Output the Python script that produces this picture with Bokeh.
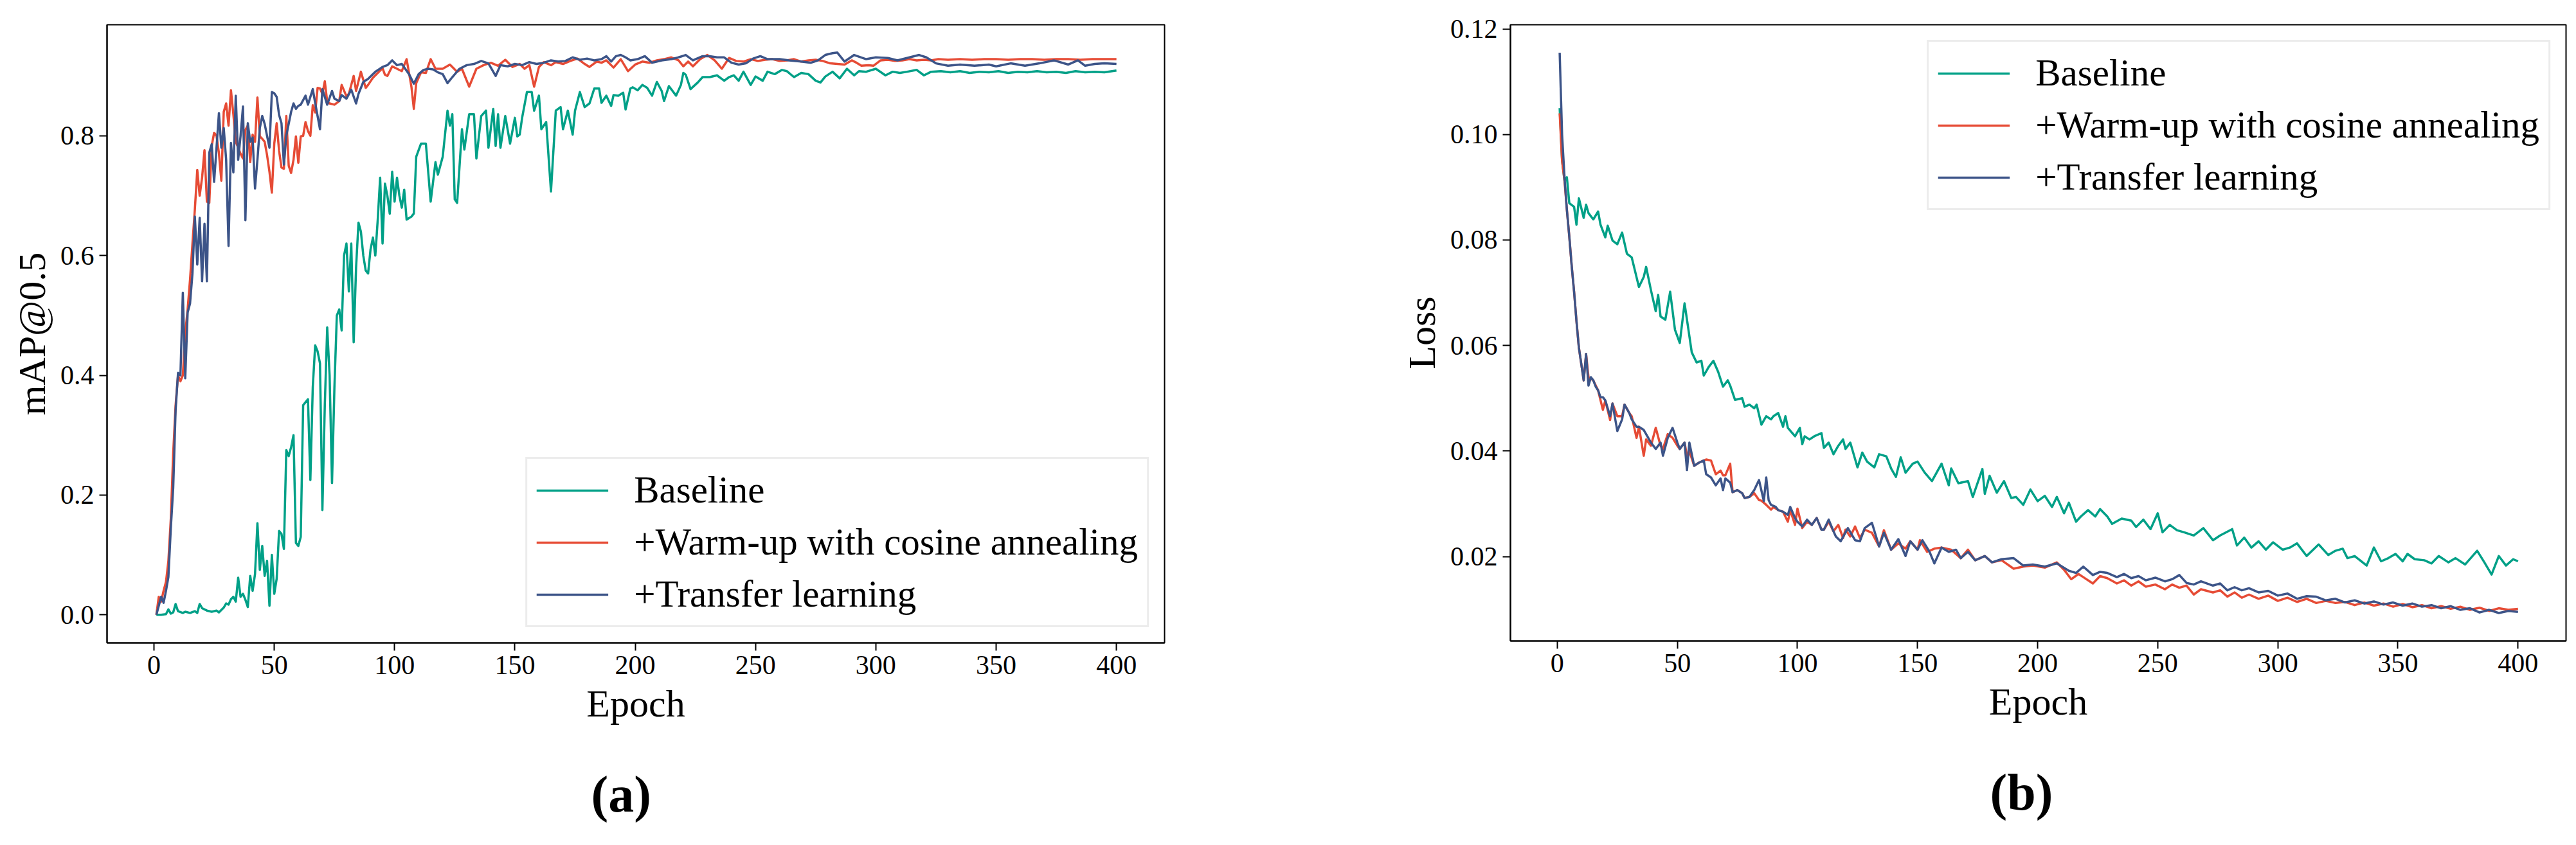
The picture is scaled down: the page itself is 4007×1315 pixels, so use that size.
from bokeh.plotting import figure
from bokeh.layouts import row
from bokeh.models import Range1d, FixedTicker, PrintfTickFormatter, Legend, LegendItem, Title
from bokeh.embed import file_html
from bokeh.resources import INLINE

FONT = "Liberation Serif"
GREEN, RED, BLUE = "#00A087", "#E64B35", "#3C5488"

series_names = ["Baseline", "+Warm-up with cosine annealing", "+Transfer learning"]
epoch_ticks = [0, 50, 100, 150, 200, 250, 300, 350, 400]
map_ticks = [0.0, 0.2, 0.4, 0.6, 0.8]
loss_ticks = [0.02, 0.04, 0.06, 0.08, 0.10, 0.12]

# (epoch, mAP@0.5)
map_baseline = [
    (1, 0.000), (3, 0.000), (5, 0.001), (6, 0.009), (7, 0.002), (8, 0.004), (9, 0.018), (10, 0.006), (12, 0.003), (13, 0.005),
    (15, 0.003), (17, 0.006), (18, 0.003), (19, 0.018), (20, 0.011), (22, 0.007), (24, 0.005), (26, 0.007), (27, 0.004), (29, 0.012),
    (30, 0.019), (31, 0.017), (32, 0.026), (33, 0.030), (34, 0.022), (35, 0.062), (36, 0.030), (37, 0.035), (38, 0.025), (39, 0.013),
    (40, 0.065), (41, 0.040), (42, 0.068), (43, 0.153), (44, 0.075), (45, 0.115), (46, 0.065), (47, 0.090), (48, 0.015), (49, 0.100),
    (50, 0.035), (51, 0.060), (52, 0.140), (53, 0.135), (54, 0.110), (55, 0.275), (56, 0.265), (57, 0.280), (58, 0.300), (59, 0.120),
    (60, 0.115), (61, 0.130), (62, 0.350), (63, 0.355), (64, 0.360), (65, 0.225), (66, 0.380), (67, 0.450), (68, 0.440), (69, 0.420),
    (70, 0.175), (71, 0.350), (72, 0.480), (73, 0.400), (74, 0.220), (75, 0.380), (76, 0.500), (77, 0.510), (78, 0.475), (79, 0.600),
    (80, 0.620), (81, 0.540), (82, 0.620), (83, 0.455), (84, 0.580), (85, 0.655), (86, 0.640), (87, 0.600), (88, 0.575), (89, 0.570),
    (90, 0.610), (91, 0.630), (92, 0.600), (93, 0.660), (94, 0.730), (95, 0.620), (96, 0.720), (97, 0.700), (98, 0.670), (99, 0.740),
    (100, 0.690), (101, 0.730), (102, 0.700), (103, 0.680), (104, 0.710), (105, 0.660), (107, 0.665), (108, 0.670), (109, 0.765), (111, 0.787),
    (113, 0.787), (115, 0.690), (117, 0.756), (118, 0.735), (120, 0.765), (122, 0.842), (123, 0.817), (124, 0.836), (125, 0.694), (126, 0.688),
    (128, 0.811), (129, 0.777), (131, 0.836), (133, 0.836), (134, 0.762), (136, 0.833), (138, 0.842), (139, 0.780), (141, 0.845), (142, 0.783),
    (143, 0.836), (144, 0.780), (146, 0.833), (148, 0.787), (150, 0.830), (151, 0.799), (152, 0.802), (153, 0.830), (155, 0.873), (157, 0.873),
    (158, 0.842), (160, 0.867), (161, 0.811), (163, 0.823), (165, 0.707), (167, 0.842), (169, 0.848), (170, 0.811), (172, 0.842), (174, 0.802),
    (175, 0.842), (177, 0.873), (179, 0.848), (181, 0.854), (183, 0.879), (185, 0.879), (186, 0.855), (188, 0.867), (190, 0.850), (191, 0.868),
    (193, 0.867), (195, 0.872), (196, 0.844), (198, 0.879), (199, 0.881), (201, 0.876), (203, 0.885), (205, 0.880), (207, 0.867), (209, 0.890),
    (211, 0.875), (212, 0.858), (214, 0.883), (217, 0.867), (219, 0.885), (220, 0.905), (221, 0.902), (223, 0.878), (226, 0.889), (228, 0.898),
    (231, 0.898), (234, 0.901), (237, 0.892), (239, 0.898), (241, 0.901), (243, 0.892), (245, 0.907), (248, 0.885), (250, 0.899), (253, 0.892),
    (255, 0.907), (258, 0.903), (261, 0.910), (263, 0.908), (266, 0.898), (269, 0.905), (272, 0.903), (275, 0.892), (277, 0.889), (279, 0.899),
    (282, 0.907), (285, 0.896), (288, 0.912), (291, 0.901), (293, 0.908), (296, 0.907), (300, 0.912), (304, 0.901), (307, 0.907), (310, 0.905),
    (313, 0.907), (317, 0.910), (320, 0.901), (323, 0.907), (327, 0.908), (331, 0.906), (335, 0.908), (339, 0.905), (343, 0.907), (347, 0.906),
    (351, 0.908), (355, 0.905), (359, 0.907), (363, 0.906), (367, 0.908), (371, 0.906), (375, 0.907), (379, 0.905), (383, 0.908), (387, 0.906),
    (391, 0.907), (395, 0.906), (400, 0.909),
]

map_warmup = [
    (1, 0.000), (2, 0.030), (3, 0.022), (4, 0.040), (5, 0.055), (6, 0.090), (7, 0.160), (8, 0.270), (9, 0.350), (10, 0.400),
    (11, 0.390), (12, 0.400), (13, 0.470), (14, 0.510), (15, 0.560), (16, 0.620), (17, 0.677), (18, 0.743), (19, 0.700), (20, 0.730),
    (21, 0.776), (22, 0.690), (23, 0.688), (24, 0.783), (25, 0.805), (26, 0.800), (27, 0.771), (28, 0.725), (29, 0.840), (30, 0.854),
    (31, 0.817), (32, 0.876), (33, 0.836), (34, 0.790), (35, 0.780), (36, 0.770), (37, 0.762), (38, 0.810), (39, 0.817), (40, 0.756),
    (41, 0.802), (42, 0.790), (43, 0.864), (44, 0.799), (45, 0.795), (46, 0.790), (47, 0.768), (48, 0.740), (49, 0.705), (50, 0.787),
    (51, 0.821), (52, 0.775), (53, 0.747), (54, 0.745), (55, 0.833), (56, 0.750), (57, 0.738), (58, 0.760), (59, 0.799), (60, 0.755),
    (61, 0.799), (62, 0.800), (63, 0.823), (64, 0.808), (65, 0.800), (66, 0.851), (67, 0.839), (68, 0.880), (69, 0.879), (70, 0.870),
    (71, 0.891), (72, 0.857), (73, 0.854), (75, 0.852), (77, 0.858), (78, 0.885), (80, 0.866), (81, 0.870), (83, 0.900), (84, 0.875),
    (86, 0.907), (88, 0.880), (89, 0.885), (91, 0.897), (93, 0.905), (95, 0.913), (96, 0.902), (97, 0.900), (99, 0.916), (101, 0.912),
    (103, 0.908), (105, 0.928), (107, 0.882), (108, 0.845), (109, 0.888), (111, 0.906), (113, 0.905), (115, 0.928), (117, 0.912), (120, 0.912),
    (123, 0.919), (126, 0.907), (128, 0.912), (131, 0.882), (134, 0.912), (137, 0.918), (140, 0.922), (143, 0.917), (146, 0.927), (149, 0.915),
    (152, 0.920), (154, 0.912), (156, 0.918), (158, 0.882), (160, 0.915), (162, 0.923), (165, 0.918), (167, 0.923), (170, 0.920), (173, 0.925),
    (176, 0.929), (179, 0.920), (181, 0.915), (184, 0.924), (186, 0.922), (188, 0.926), (191, 0.914), (194, 0.928), (197, 0.908), (200, 0.919),
    (203, 0.924), (206, 0.922), (209, 0.926), (212, 0.928), (215, 0.931), (218, 0.926), (220, 0.916), (222, 0.924), (224, 0.916), (227, 0.928),
    (230, 0.935), (233, 0.926), (236, 0.912), (239, 0.930), (242, 0.925), (245, 0.924), (248, 0.928), (251, 0.925), (254, 0.927), (257, 0.928),
    (260, 0.925), (263, 0.926), (266, 0.928), (269, 0.924), (272, 0.926), (275, 0.927), (278, 0.925), (281, 0.921), (284, 0.920), (287, 0.919),
    (290, 0.926), (292, 0.922), (294, 0.917), (297, 0.918), (299, 0.917), (302, 0.926), (305, 0.927), (308, 0.925), (311, 0.926), (314, 0.928),
    (317, 0.926), (320, 0.927), (323, 0.926), (326, 0.928), (330, 0.927), (335, 0.928), (340, 0.927), (345, 0.928), (350, 0.928), (355, 0.927),
    (360, 0.928), (365, 0.928), (370, 0.927), (375, 0.928), (380, 0.928), (385, 0.927), (390, 0.928), (395, 0.928), (400, 0.928),
]

map_transfer = [
    (1, 0.000), (2, 0.015), (3, 0.030), (4, 0.020), (5, 0.040), (6, 0.063), (7, 0.144), (8, 0.212), (9, 0.342), (10, 0.404),
    (11, 0.400), (12, 0.538), (13, 0.395), (14, 0.505), (15, 0.520), (16, 0.570), (17, 0.665), (18, 0.585), (19, 0.663), (20, 0.557),
    (21, 0.653), (22, 0.557), (23, 0.772), (24, 0.786), (25, 0.723), (26, 0.780), (27, 0.838), (28, 0.780), (29, 0.813), (30, 0.760),
    (31, 0.616), (32, 0.788), (33, 0.739), (34, 0.867), (35, 0.760), (36, 0.800), (37, 0.849), (38, 0.659), (39, 0.821), (40, 0.790),
    (41, 0.797), (42, 0.712), (43, 0.760), (44, 0.813), (45, 0.833), (46, 0.820), (47, 0.800), (48, 0.780), (49, 0.873), (50, 0.871),
    (51, 0.865), (52, 0.835), (53, 0.821), (54, 0.752), (55, 0.800), (56, 0.820), (57, 0.840), (58, 0.854), (59, 0.845), (60, 0.850),
    (61, 0.852), (63, 0.867), (64, 0.852), (66, 0.878), (67, 0.855), (69, 0.811), (70, 0.878), (72, 0.852), (74, 0.875), (75, 0.862),
    (77, 0.858), (78, 0.868), (80, 0.862), (82, 0.877), (84, 0.854), (85, 0.870), (87, 0.890), (89, 0.895), (90, 0.899), (92, 0.907),
    (95, 0.915), (97, 0.918), (99, 0.926), (101, 0.918), (103, 0.920), (106, 0.903), (108, 0.887), (110, 0.903), (112, 0.910), (114, 0.912),
    (116, 0.911), (118, 0.906), (120, 0.903), (122, 0.888), (124, 0.898), (127, 0.912), (130, 0.918), (133, 0.920), (136, 0.925), (139, 0.921),
    (142, 0.900), (144, 0.918), (147, 0.916), (150, 0.920), (153, 0.918), (156, 0.923), (159, 0.920), (162, 0.922), (165, 0.926), (168, 0.924),
    (171, 0.925), (174, 0.931), (177, 0.927), (180, 0.929), (183, 0.926), (186, 0.928), (188, 0.933), (190, 0.924), (192, 0.933), (194, 0.935),
    (196, 0.931), (198, 0.926), (201, 0.928), (204, 0.933), (207, 0.922), (211, 0.926), (215, 0.928), (218, 0.931), (221, 0.935), (224, 0.926),
    (228, 0.933), (231, 0.933), (234, 0.931), (237, 0.931), (240, 0.922), (243, 0.919), (246, 0.921), (249, 0.929), (252, 0.933), (255, 0.928),
    (260, 0.928), (264, 0.926), (269, 0.924), (273, 0.922), (276, 0.926), (279, 0.935), (282, 0.938), (284, 0.939), (287, 0.924), (291, 0.935),
    (296, 0.928), (300, 0.931), (305, 0.930), (309, 0.926), (314, 0.931), (318, 0.935), (321, 0.931), (325, 0.921), (330, 0.917), (335, 0.919),
    (341, 0.917), (347, 0.919), (350, 0.916), (356, 0.921), (362, 0.917), (368, 0.921), (374, 0.926), (380, 0.919), (384, 0.926), (387, 0.917),
    (391, 0.920), (395, 0.921), (400, 0.920),
]

# (epoch, loss)
loss_baseline = [
    (1, 0.1050), (2, 0.0951), (3, 0.0913), (4, 0.0919), (5, 0.0870), (7, 0.0863), (8, 0.0829), (9, 0.0879), (11, 0.0842), (12, 0.0867),
    (13, 0.0851), (15, 0.0839), (17, 0.0854), (18, 0.0829), (20, 0.0805), (21, 0.0827), (23, 0.0799), (25, 0.0792), (27, 0.0814), (29, 0.0774),
    (31, 0.0767), (34, 0.0711), (36, 0.0730), (37, 0.0749), (39, 0.0705), (41, 0.0665), (42, 0.0696), (43, 0.0655), (45, 0.0649), (47, 0.0702),
    (49, 0.0630), (51, 0.0605), (53, 0.0680), (56, 0.0587), (58, 0.0568), (60, 0.0571), (61, 0.0543), (63, 0.0559), (65, 0.0571), (67, 0.0550),
    (69, 0.0522), (71, 0.0534), (72, 0.0524), (74, 0.0497), (77, 0.0500), (78, 0.0484), (80, 0.0488), (82, 0.0481), (83, 0.0488), (85, 0.0450),
    (87, 0.0466), (89, 0.0460), (90, 0.0466), (92, 0.0472), (94, 0.0446), (95, 0.0466), (96, 0.0444), (99, 0.0428), (101, 0.0444), (102, 0.0413),
    (103, 0.0428), (105, 0.0422), (107, 0.0428), (110, 0.0434), (111, 0.0406), (113, 0.0416), (115, 0.0394), (117, 0.0410), (119, 0.0422), (120, 0.0404),
    (122, 0.0416), (125, 0.0369), (127, 0.0397), (129, 0.0380), (132, 0.0369), (134, 0.0394), (137, 0.0390), (139, 0.0367), (141, 0.0351), (143, 0.0388),
    (145, 0.0359), (148, 0.0376), (150, 0.0380), (153, 0.0359), (156, 0.0343), (160, 0.0376), (163, 0.0335), (164, 0.0367), (167, 0.0339), (171, 0.0343),
    (173, 0.0313), (177, 0.0366), (178, 0.0319), (180, 0.0353), (183, 0.0321), (186, 0.0343), (189, 0.0311), (191, 0.0313), (194, 0.0298), (197, 0.0327),
    (200, 0.0305), (203, 0.0315), (206, 0.0294), (208, 0.0313), (211, 0.0282), (213, 0.0302), (216, 0.0266), (218, 0.0276), (221, 0.0288), (224, 0.0276),
    (226, 0.0290), (229, 0.0276), (231, 0.0262), (235, 0.0272), (239, 0.0268), (241, 0.0256), (244, 0.0270), (247, 0.0252), (250, 0.0282), (252, 0.0246),
    (255, 0.0260), (258, 0.0250), (261, 0.0246), (265, 0.0240), (269, 0.0254), (273, 0.0231), (276, 0.0240), (281, 0.0252), (283, 0.0221), (286, 0.0236),
    (289, 0.0217), (292, 0.0229), (295, 0.0213), (298, 0.0227), (302, 0.0213), (305, 0.0217), (308, 0.0225), (312, 0.0201), (317, 0.0223), (321, 0.0203),
    (324, 0.0211), (327, 0.0215), (329, 0.0197), (332, 0.0201), (337, 0.0183), (340, 0.0217), (343, 0.0191), (346, 0.0197), (349, 0.0205), (352, 0.0191),
    (354, 0.0205), (357, 0.0195), (361, 0.0193), (364, 0.0187), (367, 0.0201), (371, 0.0189), (374, 0.0197), (378, 0.0185), (383, 0.0211), (386, 0.0189),
    (389, 0.0166), (392, 0.0201), (395, 0.0183), (398, 0.0195), (400, 0.0191),
]

loss_warmup = [
    (1, 0.1040), (2, 0.0950), (3, 0.0913), (4, 0.0857), (5, 0.0807), (6, 0.0751), (7, 0.0702), (8, 0.0646), (9, 0.0596), (10, 0.0565),
    (11, 0.0534), (12, 0.0584), (13, 0.0540), (15, 0.0534), (17, 0.0515), (19, 0.0478), (20, 0.0496), (22, 0.0459), (23, 0.0490), (25, 0.0466),
    (27, 0.0466), (28, 0.0488), (30, 0.0472), (31, 0.0466), (33, 0.0425), (34, 0.0446), (36, 0.0391), (37, 0.0422), (39, 0.0410), (41, 0.0444),
    (43, 0.0410), (44, 0.0404), (46, 0.0432), (48, 0.0425), (50, 0.0410), (51, 0.0404), (53, 0.0416), (54, 0.0391), (55, 0.0400), (57, 0.0372),
    (59, 0.0378), (61, 0.0382), (62, 0.0384), (64, 0.0382), (66, 0.0356), (68, 0.0363), (69, 0.0354), (70, 0.0354), (72, 0.0376), (73, 0.0322),
    (75, 0.0326), (77, 0.0320), (78, 0.0311), (80, 0.0313), (82, 0.0320), (84, 0.0307), (85, 0.0306), (87, 0.0298), (89, 0.0289), (90, 0.0294),
    (92, 0.0288), (94, 0.0285), (96, 0.0266), (97, 0.0288), (99, 0.0260), (100, 0.0291), (102, 0.0254), (104, 0.0266), (106, 0.0260), (108, 0.0273),
    (110, 0.0251), (111, 0.0251), (113, 0.0266), (115, 0.0248), (117, 0.0260), (119, 0.0235), (120, 0.0251), (122, 0.0238), (124, 0.0257), (126, 0.0235),
    (128, 0.0251), (131, 0.0245), (134, 0.0219), (136, 0.0250), (139, 0.0213), (142, 0.0225), (145, 0.0215), (147, 0.0229), (150, 0.0213), (151, 0.0231),
    (154, 0.0209), (157, 0.0215), (160, 0.0217), (164, 0.0213), (168, 0.0197), (171, 0.0213), (174, 0.0193), (178, 0.0201), (181, 0.0189), (185, 0.0193),
    (190, 0.0177), (194, 0.0181), (198, 0.0183), (203, 0.0179), (208, 0.0189), (211, 0.0175), (214, 0.0157), (217, 0.0167), (219, 0.0161), (223, 0.0149),
    (226, 0.0163), (229, 0.0159), (233, 0.0149), (236, 0.0155), (239, 0.0145), (242, 0.0153), (245, 0.0143), (249, 0.0147), (253, 0.0138), (256, 0.0147),
    (259, 0.0141), (262, 0.0145), (265, 0.0128), (268, 0.0138), (273, 0.0132), (276, 0.0136), (279, 0.0124), (282, 0.0132), (285, 0.0122), (288, 0.0128),
    (292, 0.0120), (296, 0.0126), (300, 0.0116), (304, 0.0122), (308, 0.0114), (312, 0.0120), (316, 0.0112), (320, 0.0116), (324, 0.0112), (328, 0.0114),
    (332, 0.0108), (336, 0.0113), (340, 0.0107), (344, 0.0111), (348, 0.0105), (352, 0.0110), (356, 0.0104), (360, 0.0108), (364, 0.0102), (368, 0.0106),
    (372, 0.0101), (376, 0.0105), (380, 0.0099), (384, 0.0103), (388, 0.0097), (392, 0.0102), (396, 0.0099), (400, 0.0101),
]

loss_transfer = [
    (1, 0.1155), (2, 0.1000), (3, 0.0920), (4, 0.0857), (5, 0.0807), (6, 0.0751), (7, 0.0702), (8, 0.0646), (9, 0.0596), (10, 0.0565),
    (11, 0.0534), (12, 0.0584), (13, 0.0524), (14, 0.0540), (15, 0.0534), (16, 0.0522), (17, 0.0515), (18, 0.0502), (19, 0.0502), (20, 0.0496),
    (22, 0.0466), (23, 0.0490), (25, 0.0438), (27, 0.0460), (28, 0.0488), (30, 0.0472), (31, 0.0460), (33, 0.0446), (34, 0.0446), (36, 0.0440),
    (37, 0.0432), (39, 0.0416), (41, 0.0404), (43, 0.0416), (44, 0.0391), (46, 0.0425), (48, 0.0444), (50, 0.0416), (51, 0.0404), (53, 0.0416),
    (54, 0.0364), (55, 0.0416), (57, 0.0372), (59, 0.0378), (61, 0.0382), (62, 0.0356), (64, 0.0350), (66, 0.0335), (68, 0.0348), (69, 0.0326),
    (70, 0.0348), (72, 0.0340), (73, 0.0322), (75, 0.0326), (77, 0.0320), (78, 0.0311), (80, 0.0313), (82, 0.0326), (84, 0.0345), (86, 0.0305),
    (87, 0.0350), (88, 0.0307), (89, 0.0298), (91, 0.0294), (92, 0.0288), (94, 0.0285), (96, 0.0279), (97, 0.0294), (99, 0.0273), (100, 0.0266),
    (102, 0.0257), (104, 0.0270), (106, 0.0260), (108, 0.0273), (110, 0.0251), (111, 0.0251), (113, 0.0270), (115, 0.0248), (116, 0.0238), (118, 0.0229),
    (121, 0.0254), (124, 0.0231), (126, 0.0229), (128, 0.0254), (131, 0.0264), (134, 0.0219), (136, 0.0245), (139, 0.0213), (142, 0.0233), (145, 0.0201),
    (147, 0.0229), (150, 0.0213), (152, 0.0231), (155, 0.0209), (157, 0.0187), (160, 0.0217), (163, 0.0209), (166, 0.0213), (168, 0.0197), (171, 0.0209),
    (174, 0.0193), (178, 0.0201), (181, 0.0189), (185, 0.0195), (190, 0.0197), (194, 0.0183), (198, 0.0185), (203, 0.0181), (208, 0.0187), (213, 0.0173),
    (216, 0.0169), (219, 0.0181), (223, 0.0165), (226, 0.0171), (229, 0.0169), (233, 0.0161), (236, 0.0167), (239, 0.0159), (242, 0.0163), (245, 0.0155),
    (249, 0.0160), (253, 0.0153), (256, 0.0157), (259, 0.0165), (262, 0.0150), (265, 0.0147), (268, 0.0153), (273, 0.0145), (276, 0.0149), (279, 0.0136),
    (282, 0.0142), (285, 0.0136), (288, 0.0140), (292, 0.0132), (296, 0.0135), (300, 0.0126), (304, 0.0130), (308, 0.0120), (312, 0.0125), (316, 0.0124),
    (320, 0.0117), (324, 0.0120), (328, 0.0113), (332, 0.0117), (336, 0.0111), (340, 0.0115), (344, 0.0109), (348, 0.0113), (352, 0.0107), (356, 0.0111),
    (360, 0.0105), (364, 0.0108), (368, 0.0102), (372, 0.0106), (376, 0.0099), (380, 0.0102), (384, 0.0094), (388, 0.0099), (392, 0.0093), (396, 0.0097),
    (400, 0.0095),
]


def make_panel(frame_w, frame_h, border_left, border_right, y_range, y_label, y_ticks, y_format):
    p = figure(frame_width=frame_w, frame_height=frame_h, x_range=Range1d(-19.5, 420), y_range=y_range,
               output_backend="svg", toolbar_location=None,
               min_border_left=border_left, min_border_right=border_right,
               min_border_top=38, min_border_bottom=250)
    p.grid.visible = False
    p.outline_line_color = "black"
    p.outline_line_width = 2
    for ax in (p.xaxis[0], p.yaxis[0]):
        ax.axis_line_color = "black"
        ax.axis_line_width = 2
        ax.major_tick_in = 0
        ax.major_tick_out = 12
        ax.major_tick_line_width = 2
        ax.minor_tick_line_color = None
        ax.major_label_text_font = FONT
        ax.major_label_text_font_size = "42px"
        ax.major_label_text_color = "black"
        ax.axis_label_text_font = FONT
        ax.axis_label_text_font_style = "normal"
        ax.axis_label_text_color = "black"
        ax.axis_label_text_font_size = "60px"
    p.xaxis.ticker = FixedTicker(ticks=epoch_ticks)
    p.xaxis.major_label_standoff = 8
    p.xaxis.axis_label = "Epoch"
    p.xaxis.axis_label_standoff = 10
    p.yaxis.ticker = FixedTicker(ticks=y_ticks)
    p.yaxis.formatter = PrintfTickFormatter(format=y_format)
    p.yaxis.major_label_standoff = 8
    p.yaxis.axis_label = y_label
    p.yaxis.axis_label_standoff = 8
    return p


def add_series(p, data, legend_loc):
    renderers = []
    for pts, color in zip(data, [GREEN, RED, BLUE]):
        xs = [e for e, _ in pts]
        ys = [v for _, v in pts]
        renderers.append(p.line(xs, ys, line_color=color, line_width=3.5, line_join="round"))
    legend = Legend(items=[LegendItem(label=n, renderers=[r]) for n, r in zip(series_names, renderers)],
                    location=legend_loc, margin=24, padding=14, spacing=12,
                    glyph_width=112, glyph_height=66, label_height=66, label_standoff=40,
                    label_text_font=FONT, label_text_font_size="59px", label_text_color="black",
                    border_line_color="#d9d9d9", border_line_width=3,
                    background_fill_color="white", background_fill_alpha=0.8)
    p.add_layout(legend)


def add_caption(p, text, offset):
    p.add_layout(Title(text=text, align="left", offset=offset, standoff=118,
                       text_font=FONT, text_font_size="80px", text_font_style="bold",
                       text_color="black"), "below")


# panel (a)
pa = make_panel(1645, 962, 166, 189, Range1d(-0.047, 0.9855), "mAP@0.5", map_ticks, "%.1f")
add_series(pa, [map_baseline, map_warmup, map_transfer], "bottom_right")
add_caption(pa, "(a)", 753)

# panel (b)
pb = make_panel(1642, 959, 349, 8, Range1d(0.0040, 0.1208), "Loss", loss_ticks, "%.2f")
add_series(pb, [loss_baseline, loss_warmup, loss_transfer], "top_right")
add_caption(pb, "(b)", 746)

layout = row(pa, pb)
open("out.html", "w").write(file_html(layout, INLINE))
